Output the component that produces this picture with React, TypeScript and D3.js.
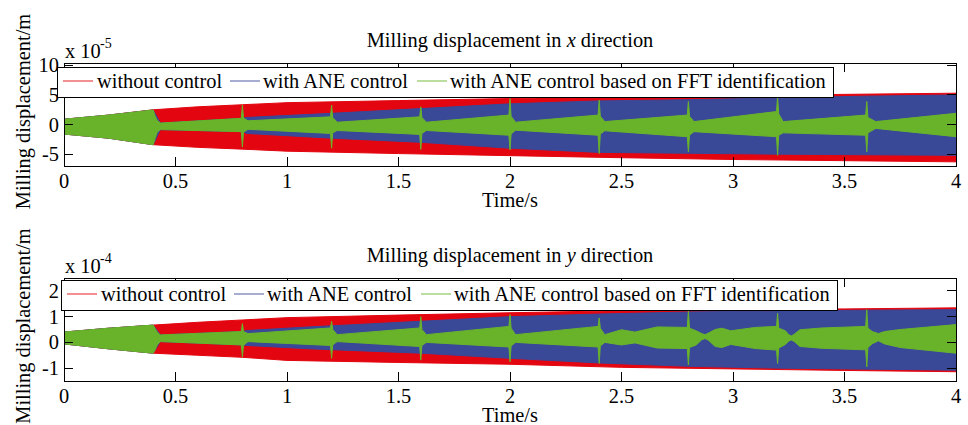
import * as d3 from "d3";

// envelope samples of the dense vibration signal: [time (s), upper, lower]
type Env = [number, number, number];

const timeTicks = [0, 0.5, 1, 1.5, 2, 2.5, 3, 3.5, 4];
const xDirTicks = [-5, 0, 5, 10];
const yDirTicks = [-1, 0, 1, 2];
const legendLabels = ["without control", "with ANE control", "with ANE control based on FFT identification"];

// x direction, x 10^-5 m
const xRed: Env[] = [
  [0, 0.9, -1.6], [0.2, 1.6, -2.3], [0.4, 2.5, -3.4], [0.6, 3.0, -3.85], [0.8, 3.35, -4.15],
  [1.0, 3.7, -4.5], [1.5, 4.05, -4.9], [2.0, 4.4, -5.25], [2.5, 4.7, -5.6], [3.0, 4.9, -5.9],
  [3.5, 5.1, -6.1], [4.0, 5.3, -6.3],
];
const xBlue: Env[] = [
  [0, 0.9, -1.6], [0.2, 1.6, -2.3], [0.4, 2.46, -3.4], [0.432, 0.25, -0.85], [0.8, 1.05, -1.2],
  [0.82, 1.2, -1.5], [1.2, 1.9, -2.3], [1.6, 2.7, -3.0], [2.0, 3.5, -4.0], [2.4, 4.0, -4.7],
  [2.8, 4.2, -4.85], [3.2, 4.5, -5.0], [3.6, 4.8, -5.1], [4.0, 5.0, -5.2],
];
const xGreen: Env[] = [
  [0, 0.9, -1.6], [0.2, 1.6, -2.3], [0.4, 2.46, -3.4], [0.408, 1.5, -2.4], [0.418, 0.7, -1.3],
  [0.432, 0.25, -0.85], [0.795, 1.05, -1.2], [0.8, 3.3, -3.8], [0.805, 1.1, -1.3], [0.825, 0.64, -0.8],
  [1.195, 1.3, -1.5], [1.2, 3.3, -4.0], [1.205, 1.2, -1.4], [1.225, 0.4, -1.0],
  [1.595, 1.3, -1.66], [1.6, 3.0, -4.2], [1.605, 1.2, -1.5], [1.625, 0.4, -1.0],
  [1.995, 1.6, -1.8], [2.0, 4.4, -4.3], [2.005, 1.4, -1.6], [2.025, 0.4, -0.95],
  [2.395, 1.6, -1.8], [2.4, 4.15, -4.9], [2.405, 1.4, -1.6], [2.425, 0.5, -1.05],
  [2.795, 1.6, -2.05], [2.8, 3.9, -4.6], [2.805, 1.4, -1.8], [2.825, 0.5, -1.2],
  [3.195, 2.2, -2.05], [3.2, 4.7, -5.2], [3.205, 1.8, -1.8], [3.225, 0.5, -1.4],
  [3.595, 1.6, -1.8], [3.6, 3.9, -4.6], [3.605, 1.2, -1.4], [3.64, 0.5, -0.65],
  [4.0, 1.9, -2.05],
];

// y direction, x 10^-4 m
const yRed: Env[] = [
  [0, 0.4, -0.06], [0.2, 0.55, -0.25], [0.4, 0.67, -0.42], [0.6, 0.78, -0.5], [0.8, 0.87, -0.58],
  [1.0, 0.96, -0.7], [1.5, 1.06, -0.78], [2.0, 1.15, -0.85], [2.5, 1.23, -0.97], [3.0, 1.27, -1.03],
  [3.5, 1.3, -1.09], [4.0, 1.34, -1.14],
];
const yBlue: Env[] = [
  [0, 0.4, -0.06], [0.2, 0.55, -0.25], [0.4, 0.67, -0.42], [0.432, 0.29, 0.03], [0.8, 0.42, -0.1],
  [0.82, 0.46, -0.12], [1.1, 0.6, -0.25], [1.6, 0.82, -0.42], [2.0, 1.0, -0.62], [2.4, 1.1, -0.8],
  [2.8, 1.18, -0.93], [3.2, 1.22, -1.0], [3.6, 1.25, -1.04], [4.0, 1.27, -1.08],
];
const yGreen: Env[] = [
  [0, 0.4, -0.06], [0.2, 0.55, -0.25], [0.4, 0.67, -0.42], [0.408, 0.55, -0.3], [0.418, 0.4, -0.1],
  [0.432, 0.29, 0.03], [0.795, 0.42, -0.1], [0.8, 0.73, -0.56], [0.805, 0.42, -0.12], [0.825, 0.34, 0.03],
  [1.195, 0.56, -0.12], [1.2, 0.82, -0.62], [1.205, 0.5, -0.1], [1.225, 0.3, 0.03],
  [1.595, 0.56, -0.16], [1.6, 1.0, -0.69], [1.605, 0.5, -0.12], [1.625, 0.3, 0.0],
  [1.995, 0.62, -0.18], [2.0, 1.08, -0.75], [2.005, 0.55, -0.14], [2.025, 0.3, 0.0],
  [2.395, 0.62, -0.18], [2.4, 0.95, -0.82], [2.405, 0.55, -0.14], [2.425, 0.3, 0.0],
  [2.5, 0.49, -0.1], [2.56, 0.4, -0.02], [2.66, 0.6, -0.22], [2.795, 0.58, -0.24],
  [2.8, 1.21, -0.88], [2.805, 0.55, -0.2], [2.835, 0.45, -0.1], [2.86, 0.34, 0.1], [2.875, 0.3, 0.15],
  [2.89, 0.36, 0.08], [2.92, 0.5, -0.16], [2.95, 0.55, -0.2], [2.99, 0.45, -0.08], [3.1, 0.58, -0.24],
  [3.195, 0.62, -0.3], [3.2, 1.14, -0.82], [3.205, 0.55, -0.22], [3.235, 0.45, -0.08],
  [3.25, 0.3, 0.05], [3.262, 0.25, 0.09], [3.275, 0.32, 0.03], [3.3, 0.49, -0.16], [3.4, 0.56, -0.23],
  [3.595, 0.62, -0.29], [3.6, 1.27, -0.95], [3.605, 0.55, -0.2], [3.625, 0.42, -0.05],
  [3.652, 0.34, 0.06], [3.68, 0.42, -0.06], [3.75, 0.5, -0.2], [4.0, 0.69, -0.42],
];

const COLORS = ["#e3050f", "#3a4898", "#69b32b"];
const FONT = "'Liberation Serif', 'Times New Roman', serif";
const FS = 20.4;
const LEFT = 64;
const RIGHT = 956;
const PLOT_H = 103;
const TICK = 9;

type PanelProps = {
  top: number;
  dir: string;
  exponent: string;
  yDomain: [number, number];
  yTicks: number[];
  series: Env[][];
  legendX: number;
  legendDy: number;
  labelDy: number;
  id: string;
};

function Panel({ top, dir, exponent, yDomain, yTicks, series, legendX, legendDy, labelDy, id }: PanelProps) {
  const bottom = top + PLOT_H;
  const x = d3.scaleLinear().domain([0, 4]).range([LEFT, RIGHT]);
  const y = d3.scaleLinear().domain(yDomain).range([bottom, top]);
  const area = d3
    .area<Env>()
    .x((d) => x(d[0]))
    .y0((d) => y(d[2]))
    .y1((d) => y(d[1]));
  const cx = (LEFT + RIGHT) / 2;
  const ly = top + legendDy;
  const entryX = [[6, 40], [173, 206], [360, 393]];

  return (
    <g fontFamily={FONT} fill="#000">
      <clipPath id={id}>
        <rect x={LEFT} y={top} width={RIGHT - LEFT} height={PLOT_H} />
      </clipPath>
      <g clipPath={`url(#${id})`}>
        {series.map((s, i) => (
          <path key={i} d={area(s) ?? ""} fill={COLORS[i]} stroke={COLORS[i]} strokeWidth={1} />
        ))}
      </g>
      <rect x={LEFT} y={top} width={RIGHT - LEFT} height={PLOT_H} fill="none" stroke="#000" strokeWidth={1} shapeRendering="crispEdges" />
      {timeTicks.map((t) => (
        <g key={t} stroke="#000" shapeRendering="crispEdges">
          <line x1={x(t)} x2={x(t)} y1={bottom} y2={bottom - TICK} />
          <line x1={x(t)} x2={x(t)} y1={top} y2={top + TICK} />
        </g>
      ))}
      {yTicks.map((v) => (
        <g key={v} stroke="#000" shapeRendering="crispEdges">
          <line x1={LEFT} x2={LEFT + TICK} y1={y(v)} y2={y(v)} />
          <line x1={RIGHT} x2={RIGHT - TICK} y1={y(v)} y2={y(v)} />
        </g>
      ))}
      {timeTicks.map((t) => (
        <text key={t} x={x(t)} y={bottom + 22} fontSize={FS} textAnchor="middle">
          {String(t)}
        </text>
      ))}
      {yTicks.map((v) => (
        <text key={v} x={59} y={y(v) + 7} fontSize={FS} textAnchor="end">
          {String(v)}
        </text>
      ))}
      <text x={cx} y={bottom + 40.5} fontSize={FS} textAnchor="middle">
        Time/s
      </text>
      <text x={cx} y={top - 16} fontSize={FS} textAnchor="middle">
        <tspan>Milling displacement in </tspan>
        <tspan fontStyle="italic">{dir}</tspan>
        <tspan> direction</tspan>
      </text>
      <text x={65} y={top - 5.5} fontSize={FS}>
        x 10
      </text>
      <text x={100} y={top - 15} fontSize={14}>
        {exponent}
      </text>
      <text
        transform={`translate(30, ${(top + bottom) / 2 + labelDy}) rotate(-90)`}
        fontSize={FS}
        textAnchor="middle"
      >
        Milling displacement/m
      </text>
      <rect x={legendX} y={ly} width={776} height={30} fill="#fff" stroke="#000" strokeWidth={1} shapeRendering="crispEdges" />
      {legendLabels.map((label, i) => (
        <g key={label}>
          <line
            x1={legendX + entryX[i][0]}
            x2={legendX + entryX[i][0] + 30}
            y1={ly + 14}
            y2={ly + 14}
            stroke={COLORS[i]}
            strokeOpacity={0.75}
            strokeWidth={1.2}
          />
          <text x={legendX + entryX[i][1]} y={ly + 21} fontSize={FS}>
            {label}
          </text>
        </g>
      ))}
    </g>
  );
}

export default function App() {
  return (
    <svg
      width={968}
      height={425}
      viewBox="0 0 968 425"
      style={{ position: "absolute", left: 0, top: 0, background: "#fff" }}
    >
      <Panel
        id="clip-x"
        top={63}
        dir="x"
        exponent="-5"
        yDomain={[-7, 10.4]}
        yTicks={xDirTicks}
        series={[xRed, xBlue, xGreen]}
        legendX={57}
        legendDy={4}
        labelDy={-3}
      />
      <Panel
        id="clip-y"
        top={278}
        dir="y"
        exponent="-4"
        yDomain={[-1.5, 2.5]}
        yTicks={yDirTicks}
        series={[yRed, yBlue, yGreen]}
        legendX={61}
        legendDy={2}
        labelDy={-3.5}
      />
    </svg>
  );
}
